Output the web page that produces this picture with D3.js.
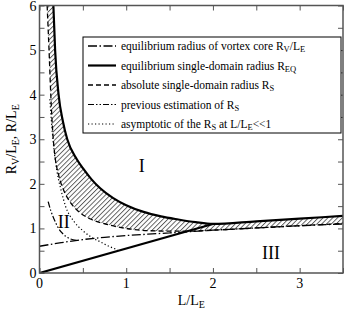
<!DOCTYPE html>
<html>
<head>
<meta charset="utf-8">
<script src="https://cdn.jsdelivr.net/npm/d3@7"></script>
<style>
  body { margin: 0; background: #fff; }
  text { font-family: "Liberation Serif", "Times New Roman", serif; }
</style>
</head>
<body>
<div id="chart"></div>
<script>
// values
const xTicks = [0, 1, 2, 3];
const yTicks = [0, 1, 2, 3, 4, 5, 6];

// equilibrium single-domain radius R_EQ (upper branch) and its lower straight branch
const reqL = [0.16, 0.18, 0.22, 0.27, 0.32, 0.43, 0.5, 0.6, 0.7, 0.85, 1.0, 1.2, 1.4, 1.6, 1.8, 2.0, 2.5, 3.0, 3.5];
const reqR = [6.0, 5.0, 4.0, 3.4, 3.0, 2.55, 2.35, 2.1, 1.9, 1.68, 1.52, 1.37, 1.27, 1.2, 1.14, 1.1, 1.16, 1.22, 1.28];
const reqLowL = [0, 2.0];
const reqLowR = [0, 1.1];

// absolute single-domain radius R_S
const rsL = [0.088, 0.11, 0.13, 0.155, 0.18, 0.22, 0.28, 0.35, 0.45, 0.6, 0.8, 1.0, 1.25, 1.5, 1.75, 2.0, 2.5, 3.0, 3.5];
const rsR = [6.0, 5.0, 4.0, 3.1, 2.6, 2.2, 1.85, 1.6, 1.38, 1.2, 1.08, 1.0, 0.95, 0.94, 0.94, 0.96, 1.01, 1.06, 1.11];

// equilibrium radius of vortex core R_V/L_E
const rvL = [0, 0.25, 0.5, 0.75, 1.0, 1.25, 1.5, 2.0, 2.5, 3.0, 3.5];
const rvR = [0.6, 0.68, 0.75, 0.8, 0.84, 0.87, 0.9, 0.96, 1.01, 1.06, 1.1];

// previous estimation of R_S
const prevL = [0.1, 0.13, 0.17, 0.22, 0.28, 0.35, 0.43];
const prevR = [1.6, 1.4, 1.2, 1.0, 0.86, 0.77, 0.73];

// asymptotic of R_S at L/L_E << 1
const asymL = [0.12, 0.13, 0.16, 0.2, 0.25, 0.3, 0.4, 0.5, 0.6, 0.7, 0.8, 0.9];
const asymR = [3.9, 3.6, 2.9, 2.3, 1.85, 1.5, 1.15, 0.95, 0.8, 0.7, 0.6, 0.52];

const legendItems = [
  {key: "rv", parts: [["equilibrium radius of vortex core R", ""], ["V", "sub"], ["/L", ""], ["E", "sub"]]},
  {key: "req", parts: [["equilibrium single-domain radius R", ""], ["EQ", "sub"]]},
  {key: "rs", parts: [["absolute single-domain radius R", ""], ["S", "sub"]]},
  {key: "prev", parts: [["previous estimation of R", ""], ["S", "sub"]]},
  {key: "asym", parts: [["asymptotic of the R", ""], ["S", "sub"], [" at L/L", ""], ["E", "sub"], ["<<1", ""]]}
];

const styles = {
  rv:   {width: 1.3, dash: "9,2.5,1.5,2.5"},
  req:  {width: 2.2, dash: null},
  rs:   {width: 1.3, dash: "5,3"},
  prev: {width: 1.2, dash: "6,2,1.5,2,1.5,2"},
  asym: {width: 1.2, dash: "1.2,2.3"}
};

const zip = (xs, ys) => xs.map((x, i) => ({x: x, y: ys[i]}));

const margin = {top: 5.5, right: 2, bottom: 40, left: 39.5},
    width = 345 - margin.left - margin.right,
    height = 313 - margin.top - margin.bottom;

const root = d3.select("#chart").append("svg")
    .attr("width", 345)
    .attr("height", 313);

const svg = root.append("g")
    .attr("transform", `translate(${margin.left}, ${margin.top})`);

const xScale = d3.scaleLinear().domain([0, 3.5]).range([0, width]);
const yScale = d3.scaleLinear().domain([0, 6]).range([height, 0]);

// hatch pattern
const defs = root.append("defs");
const pat = defs.append("pattern")
    .attr("id", "hatch")
    .attr("patternUnits", "userSpaceOnUse")
    .attr("width", 3.4).attr("height", 3.4)
    .attr("patternTransform", "rotate(45)");
pat.append("line")
    .attr("x1", 0.5).attr("y1", 0).attr("x2", 0.5).attr("y2", 3.4)
    .attr("stroke", "#222").attr("stroke-width", 0.7);

defs.append("clipPath").attr("id", "plotclip")
  .append("rect").attr("width", width).attr("height", height);

const line = d3.line()
    .x(d => xScale(d.x))
    .y(d => yScale(d.y))
    .curve(d3.curveMonotoneX);

const plot = svg.append("g").attr("clip-path", "url(#plotclip)");

// hatched area between R_EQ and R_S
const upper = zip(reqL, reqR);
const lower = zip(rsL, rsR);
const areaPath = line(lower) + "L" + line(upper.slice().reverse()).slice(1) + "Z";
plot.append("path")
    .attr("d", areaPath)
    .attr("fill", "url(#hatch)")
    .attr("stroke", "none");

function drawSeries(data, key) {
  const s = styles[key];
  plot.append("path")
      .datum(data)
      .attr("d", line)
      .attr("fill", "none")
      .attr("stroke", "#000")
      .attr("stroke-width", s.width)
      .attr("stroke-dasharray", s.dash);
}

drawSeries(zip(rvL, rvR), "rv");
drawSeries(zip(prevL, prevR), "prev");
drawSeries(zip(asymL, asymR), "asym");
drawSeries(zip(rsL, rsR), "rs");
drawSeries(upper, "req");
plot.append("path")
    .datum(zip(reqLowL, reqLowR))
    .attr("d", d3.line().x(d => xScale(d.x)).y(d => yScale(d.y)))
    .attr("fill", "none")
    .attr("stroke", "#000")
    .attr("stroke-width", 2.2);

// axes with inward ticks on all four sides
const axisColor = "#555";
const minorX = d3.range(0, 3.51, 0.5);
const minorY = d3.range(0, 6.01, 0.5);

function styleAxis(g) {
  g.select(".domain").remove();
  g.selectAll(".tick line").attr("stroke", axisColor).attr("stroke-width", 1);
  g.selectAll(".tick text").remove();
}

svg.append("g").attr("transform", `translate(0, ${height})`)
  .call(d3.axisBottom(xScale).tickValues(minorX).tickSize(-5)).call(styleAxis);
svg.append("g")
  .call(d3.axisTop(xScale).tickValues(minorX).tickSize(-5)).call(styleAxis);
svg.append("g")
  .call(d3.axisLeft(yScale).tickValues(minorY).tickSize(-5)).call(styleAxis);
svg.append("g").attr("transform", `translate(${width}, 0)`)
  .call(d3.axisRight(yScale).tickValues(minorY).tickSize(-5)).call(styleAxis);

svg.append("rect")
    .attr("width", width).attr("height", height)
    .attr("fill", "none")
    .attr("stroke", axisColor)
    .attr("stroke-width", 1.5);

// tick labels
svg.append("g").selectAll("text").data(xTicks).join("text")
    .attr("x", d => xScale(d))
    .attr("y", height + 15)
    .attr("text-anchor", "middle")
    .attr("font-size", 14)
    .text(d => d);

svg.append("g").selectAll("text").data(yTicks).join("text")
    .attr("x", -3)
    .attr("y", d => yScale(d) + 5)
    .attr("text-anchor", "end")
    .attr("font-size", 14)
    .text(d => d);

// axis titles
function richText(sel, parts, subSize) {
  parts.forEach(p => {
    const t = sel.append("tspan").text(p[0]);
    if (p[1] === "sub") t.attr("baseline-shift", "-25%").attr("font-size", subSize);
  });
}

const xt = svg.append("text")
    .attr("x", xScale(1.75))
    .attr("y", height + 32)
    .attr("text-anchor", "middle")
    .attr("font-size", 14);
richText(xt, [["L/L", ""], ["E", "sub"]], 10);

const yt = root.append("text")
    .attr("transform", `translate(16, ${margin.top + yScale(3)}) rotate(-90)`)
    .attr("text-anchor", "middle")
    .attr("font-size", 14);
richText(yt, [["R", ""], ["V", "sub"], ["/L", ""], ["E", "sub"], [", R/L", ""], ["E", "sub"]], 10);

// region labels
const regions = [
  {text: "I", x: 1.18, y: 2.4},
  {text: "II", x: 0.28, y: 1.15},
  {text: "III", x: 2.67, y: 0.45}
];
svg.append("g").selectAll("text").data(regions).join("text")
    .attr("x", d => xScale(d.x))
    .attr("y", d => yScale(d.y) + 6)
    .attr("text-anchor", "middle")
    .attr("font-size", 18)
    .text(d => d.text);

// legend
const legend = svg.append("g").attr("transform", `translate(${83 - margin.left}, ${37 - margin.top})`);
legend.append("rect")
    .attr("width", 258).attr("height", 96)
    .attr("fill", "#fff")
    .attr("stroke", "#000")
    .attr("stroke-width", 1);

legendItems.forEach((item, i) => {
  const yy = 9 + i * 19.5;
  const s = styles[item.key];
  legend.append("line")
      .attr("x1", 5).attr("x2", 33)
      .attr("y1", yy).attr("y2", yy)
      .attr("stroke", "#000")
      .attr("stroke-width", s.width)
      .attr("stroke-dasharray", s.dash);
  const t = legend.append("text")
      .attr("x", 38)
      .attr("y", yy + 4)
      .attr("font-size", 11.5);
  richText(t, item.parts, 8.5);
});
</script>
</body>
</html>
